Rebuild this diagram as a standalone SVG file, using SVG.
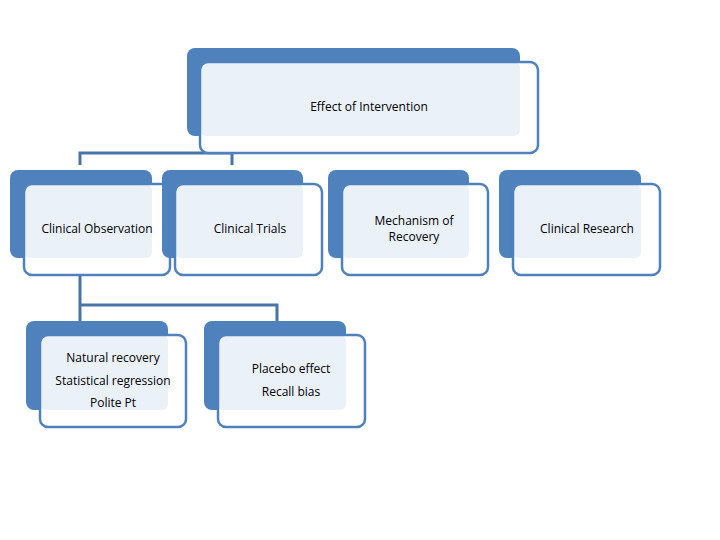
<svg xmlns="http://www.w3.org/2000/svg" width="720" height="540" viewBox="0 0 720 540">
<style>
.bk{fill:#4F81BD}
.fw{fill:#fff}
.ov{fill:#EBF1F9}
.fs{fill:none;stroke:#4F81BD;stroke-width:2.5}
.t{font-family:"Open Sans","DejaVu Sans",sans-serif;font-size:12px;fill:#000;text-anchor:middle}
.c{fill:none;stroke:#4A74A8;stroke-width:3}
.f{fill:none;stroke:#D5DEEA;stroke-width:2}
</style>
<g id="connectors">
<line class="f" x1="354" y1="137" x2="354" y2="153"/>
<line class="f" x1="308" y1="215" x2="323" y2="208"/>
<path class="c" d="M80 165V153H232V165"/>
<path class="c" d="M80 275V305H277V321M80 305V321"/>
<line class="f" x1="80" y1="259" x2="80" y2="274"/>
</g>
<g id="root">
<rect class="bk" x="187" y="48" width="333" height="88" rx="8"/>
<rect class="fw" x="200" y="62" width="338" height="91" rx="8"/>
<rect class="ov" x="200" y="62" width="320" height="74" rx="6"/>
<rect class="fs" x="200" y="62" width="338" height="91" rx="8"/>
<text class="t" x="369" y="111">Effect of Intervention</text>
</g>
<g id="obs">
<rect class="bk" x="10" y="170" width="142" height="88" rx="8"/>
<rect class="fw" x="24" y="184" width="146" height="91" rx="8"/>
<rect class="ov" x="24" y="184" width="128" height="74" rx="6"/>
<rect class="fs" x="24" y="184" width="146" height="91" rx="8"/>
<text class="t" x="97" y="233">Clinical Observation</text>
</g>
<g id="trials">
<rect class="bk" x="162" y="170" width="141" height="88" rx="8"/>
<rect class="fw" x="175" y="184" width="147" height="91" rx="8"/>
<rect class="ov" x="175" y="184" width="128" height="74" rx="6"/>
<rect class="fs" x="175" y="184" width="147" height="91" rx="8"/>
<text class="t" x="250" y="233">Clinical Trials</text>
</g>
<g id="mech">
<rect class="bk" x="328" y="170" width="141" height="88" rx="8"/>
<rect class="fw" x="342" y="184" width="146" height="91" rx="8"/>
<rect class="ov" x="342" y="184" width="127" height="74" rx="6"/>
<rect class="fs" x="342" y="184" width="146" height="91" rx="8"/>
<text class="t" x="414" y="225">Mechanism of</text>
<text class="t" x="414" y="241">Recovery</text>
</g>
<g id="research">
<rect class="bk" x="499" y="170" width="142" height="88" rx="8"/>
<rect class="fw" x="513" y="184" width="147" height="91" rx="8"/>
<rect class="ov" x="513" y="184" width="128" height="74" rx="6"/>
<rect class="fs" x="513" y="184" width="147" height="91" rx="8"/>
<text class="t" x="587" y="233">Clinical Research</text>
</g>
<g id="natural">
<rect class="bk" x="26" y="321" width="142" height="89" rx="8"/>
<rect class="fw" x="40" y="335" width="146" height="92" rx="8"/>
<rect class="ov" x="40" y="335" width="128" height="75" rx="6"/>
<rect class="fs" x="40" y="335" width="146" height="92" rx="8"/>
<text class="t" x="113" y="362">Natural recovery</text>
<text class="t" x="113" y="385">Statistical regression</text>
<text class="t" x="113" y="407">Polite Pt</text>
</g>
<g id="placebo">
<rect class="bk" x="204" y="321" width="142" height="89" rx="8"/>
<rect class="fw" x="218" y="335" width="147" height="92" rx="8"/>
<rect class="ov" x="218" y="335" width="128" height="75" rx="6"/>
<rect class="fs" x="218" y="335" width="147" height="92" rx="8"/>
<text class="t" x="291" y="373">Placebo effect</text>
<text class="t" x="291" y="396">Recall bias</text>
</g>
</svg>
